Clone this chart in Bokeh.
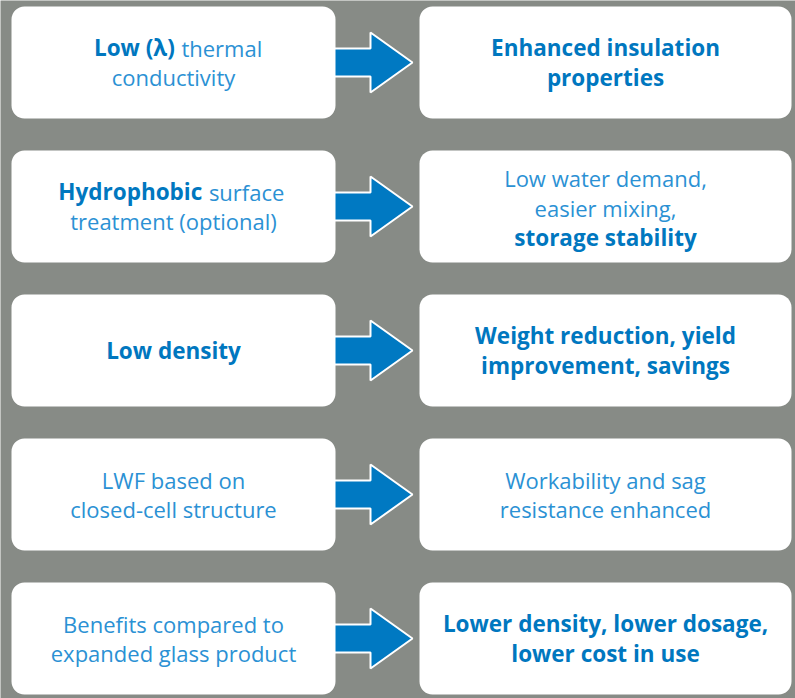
from bokeh.plotting import figure
from bokeh.models import Range1d
from bokeh.core.properties import value
from bokeh.embed import file_html
from bokeh.resources import INLINE

# ---- data ----
left_texts = [
    "**Low (λ)** thermal\nconductivity",
    "**Hydrophobic** surface\ntreatment (optional)",
    "**Low density**",
    "LWF based on\nclosed-cell structure",
    "Benefits compared to\nexpanded glass product",
]
right_texts = [
    "**Enhanced insulation**\n**properties**",
    "Low water demand,\neasier mixing,\n**storage stability**",
    "**Weight reduction, yield**\n**improvement, savings**",
    "Workability and sag\nresistance enhanced",
    "**Lower density, lower dosage,**\n**lower cost in use**",
]

# ---- style / layout ----
BG = "#878b86"
BOLD_C = "#0077bf"
REG_C = "#2b91d4"
ARROW_C = "#0079c2"
FONT = "Open Sans"
FS_B = 22.5
FS_R = 22
LINE_H = 29.5
ROW0, PITCH, BOX_H = 6, 144, 112
LBOX = (11, 335)
RBOX = (419, 791)

W, H = 795, 698
p = figure(width=W, height=H, output_backend="svg", toolbar_location=None,
           x_range=Range1d(0, W), y_range=Range1d(H, 0),
           min_border=0, background_fill_color=BG, border_fill_color=BG)
p.axis.visible = False
p.grid.visible = False
p.outline_line_color = None

n = len(left_texts)
tops = [ROW0 + PITCH * i for i in range(n)]
bots = [t + BOX_H for t in tops]
cens = [t + BOX_H / 2 for t in tops]

# arrows
xs, ys = [], []
for c in cens:
    x0, x1, x2 = 328, 370, 412
    sh, hh = 14, 30
    xs.append([x0, x1, x1, x2, x1, x1, x0])
    ys.append([c - sh, c - sh, c - hh, c, c + hh, c + sh, c + sh])
p.patches(xs, ys, fill_color=ARROW_C, line_color="white", line_width=2)

# boxes
p.quad(left=[LBOX[0]] * n, right=[LBOX[1]] * n, top=tops, bottom=bots,
       fill_color="white", line_color=None, border_radius=13)
p.quad(left=[RBOX[0]] * n, right=[RBOX[1]] * n, top=tops, bottom=bots,
       fill_color="white", line_color=None, border_radius=13)


def parse(line):
    segs = []
    parts = line.split("**")
    for k, part in enumerate(parts):
        if part.strip():
            segs.append((part.strip(), k % 2 == 1))
    return segs


def width_est(s, bold):
    w = 0.0
    for ch in s:
        if ch in "iljI.,":
            w += 0.26
        elif ch in " ()ftr":
            w += 0.34
        elif ch in "mM":
            w += 0.86
        elif ch in "wW":
            w += 0.76
        else:
            w += 0.57
    return w * (FS_B * 1.1 if bold else FS_R)


bx, by, bt, ba = [], [], [], []
rx, ry, rt, ra = [], [], [], []


def add(x, y, t, bold, align):
    if bold:
        bx.append(x); by.append(y); bt.append(t); ba.append(align)
    else:
        rx.append(x); ry.append(y); rt.append(t); ra.append(align)


for texts, box in ((left_texts, LBOX), (right_texts, RBOX)):
    cx = (box[0] + box[1]) / 2
    for i, txt in enumerate(texts):
        lines = txt.split("\n")
        m = len(lines)
        for j, line in enumerate(lines):
            y = cens[i] + (j - (m - 1) / 2) * LINE_H + (1 if m == 3 else 0)
            segs = parse(line)
            if len(segs) == 1:
                add(cx, y, segs[0][0], segs[0][1], "center")
            else:
                w1 = width_est(*segs[0])
                w2 = width_est(*segs[1])
                gap = FS_R * 0.3
                start = cx - (w1 + w2 + gap) / 2
                split = start + w1
                add(split, y, segs[0][0], segs[0][1], "right")
                add(split + gap, y, segs[1][0], segs[1][1], "left")

p.text(x=bx, y=by, text=bt, text_align=ba, text_baseline="middle",
       text_font=value(FONT), text_font_style="bold",
       text_font_size=f"{FS_B}px", text_color=BOLD_C)
p.text(x=rx, y=ry, text=rt, text_align=ra, text_baseline="middle",
       text_font=value(FONT), text_font_size=f"{FS_R}px", text_color=REG_C)

html = file_html(p, INLINE)
html = html.replace("<body>", f'<body style="margin:0;overflow:hidden;background:{BG}">', 1)
open("out.html", "w").write(html)
